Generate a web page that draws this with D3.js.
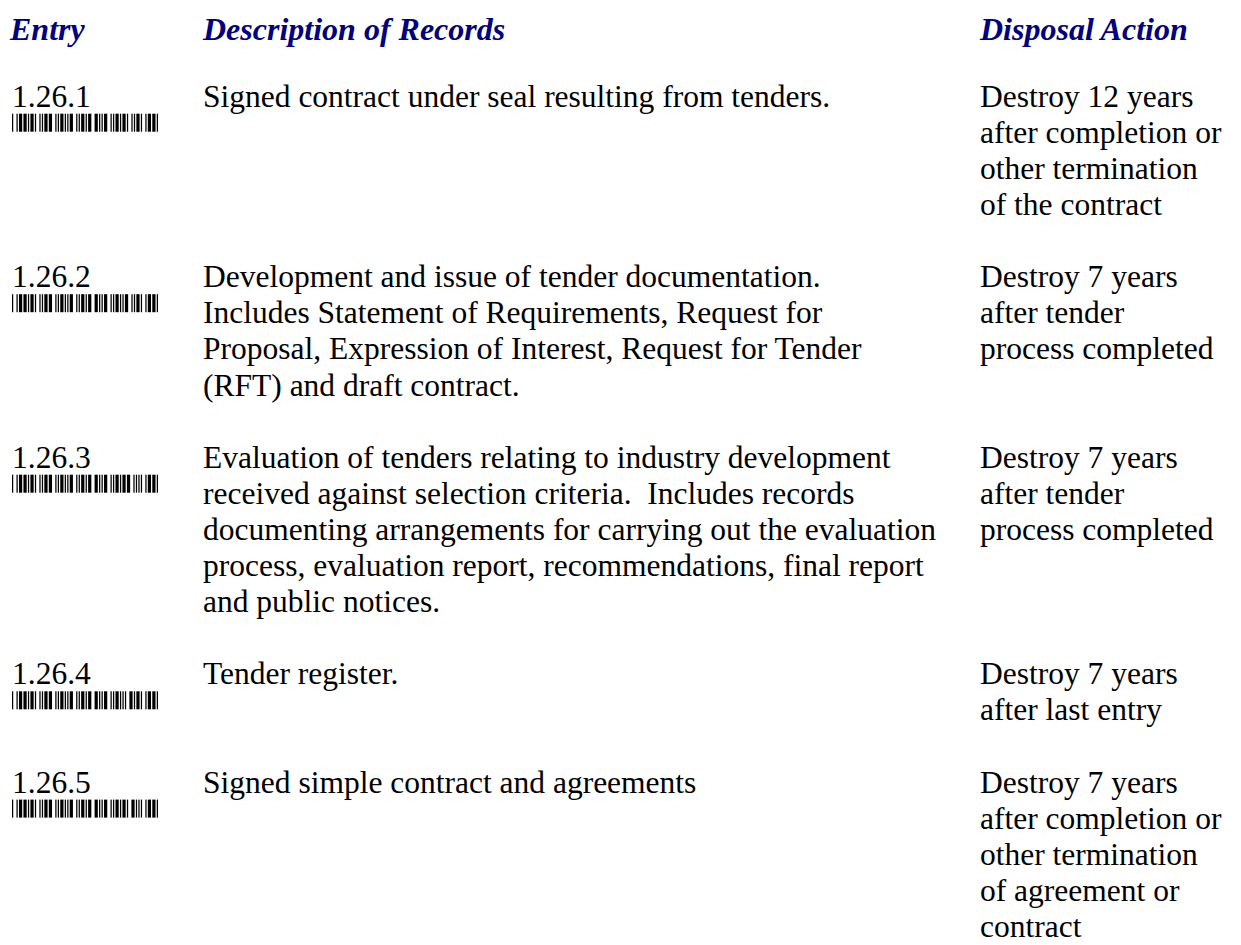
<!DOCTYPE html>
<html>
<head>
<meta charset="utf-8">
<script src="https://cdn.jsdelivr.net/npm/d3@7"></script>
<style>
  html, body { margin: 0; padding: 0; background: #fff; }
  svg { display: block; }
</style>
</head>
<body>
<svg id="page" width="1241" height="945"></svg>
<script>
// ---- data ----
const headers = ["Entry", "Description of Records", "Disposal Action"];
const entries = ["1.26.1", "1.26.2", "1.26.3", "1.26.4", "1.26.5"];
const descriptions = [
  ["Signed contract under seal resulting from tenders."],
  ["Development and issue of tender documentation.",
   "Includes Statement of Requirements, Request for",
   "Proposal, Expression of Interest, Request for Tender",
   "(RFT) and draft contract."],
  ["Evaluation of tenders relating to industry development",
   "received against selection criteria.  Includes records",
   "documenting arrangements for carrying out the evaluation",
   "process, evaluation report, recommendations, final report",
   "and public notices."],
  ["Tender register."],
  ["Signed simple contract and agreements"]
];
const disposals = [
  ["Destroy 12 years", "after completion or", "other termination", "of the contract"],
  ["Destroy 7 years", "after tender", "process completed"],
  ["Destroy 7 years", "after tender", "process completed"],
  ["Destroy 7 years", "after last entry"],
  ["Destroy 7 years", "after completion or", "other termination", "of agreement or", "contract"]
];

// Code 39 patterns (n = narrow, w = wide; bar,space,bar,...)
const code39 = {
  "0": "nnnwwnwnn", "1": "wnnwnnnnw", "2": "nnwwnnnnw", "3": "wnwwnnnnn",
  "4": "nnnwwnnnw", "5": "wnnwwnnnn", "6": "nnwwwnnnn", "7": "nnnwnnwnw",
  "8": "wnnwnnwnn", "9": "nnwwnnwnn", ".": "wwnnnnwnn", "*": "nwnnwnwnn"
};

// ---- layout ----
const svg = d3.select("#page");
svg.append("rect").attr("width", 1241).attr("height", 945).attr("fill", "#fff");

const FONT = "'Liberation Serif', 'Times New Roman', serif";
const FS = 31.5;
const colPos = d3.scaleOrdinal().domain(headers).range([10, 203, 980]);

// line index -> baseline y
const lineY = d3.scaleLinear().domain([0, 1]).range([106.7, 106.7 + 36.1]);

// starting line index of each row
const rowStart = [];
let acc = 0;
entries.forEach((e, i) => {
  rowStart.push(acc);
  acc += Math.max(descriptions[i].length, disposals[i].length) + 1;
});

// headers
svg.selectAll("text.hdr").data(headers).join("text")
  .attr("class", "hdr")
  .attr("x", d => colPos(d))
  .attr("y", 39.5)
  .attr("font-family", FONT)
  .attr("font-size", 32)
  .attr("font-weight", "bold")
  .attr("font-style", "italic")
  .attr("fill", "#000080")
  .text(d => d);

const rows = svg.selectAll("g.row").data(entries).join("g").attr("class", "row");

// entry numbers
rows.append("text")
  .attr("x", 12)
  .attr("y", (d, i) => lineY(rowStart[i]))
  .attr("font-family", FONT)
  .attr("font-size", FS)
  .attr("fill", "#000")
  .text(d => d);

// barcodes (Code 39 of the entry number)
rows.each(function(d, i) {
  const seq = "*" + d + "*";
  const elems = [];
  let pos = 0;
  const NW = 1, WW = 2.6;
  seq.split("").forEach((ch, ci) => {
    const p = code39[ch];
    p.split("").forEach((c, k) => {
      const w = c === "w" ? WW : NW;
      if (k % 2 === 0) elems.push({ x: pos, w: w });
      pos += w;
    });
    if (ci < seq.length - 1) pos += NW;
  });
  const xs = d3.scaleLinear().domain([0, pos]).range([12, 158]);
  const y0 = lineY(rowStart[i]) + 7;
  d3.select(this).append("g").selectAll("rect").data(elems).join("rect")
    .attr("x", b => xs(b.x))
    .attr("width", b => xs(b.x + b.w) - xs(b.x))
    .attr("y", y0)
    .attr("height", 18)
    .attr("fill", "#000");
});

// descriptions and disposal actions
rows.each(function(d, i) {
  d3.select(this).selectAll("text.desc").data(descriptions[i]).join("text")
    .attr("class", "desc")
    .attr("x", colPos(headers[1]))
    .attr("y", (t, k) => lineY(rowStart[i] + k))
    .attr("font-family", FONT)
    .attr("font-size", FS)
    .attr("fill", "#000")
    .style("white-space", "pre")
    .text(t => t);
  d3.select(this).selectAll("text.disp").data(disposals[i]).join("text")
    .attr("class", "disp")
    .attr("x", colPos(headers[2]))
    .attr("y", (t, k) => lineY(rowStart[i] + k))
    .attr("font-family", FONT)
    .attr("font-size", FS)
    .attr("fill", "#000")
    .text(t => t);
});
</script>
</body>
</html>
